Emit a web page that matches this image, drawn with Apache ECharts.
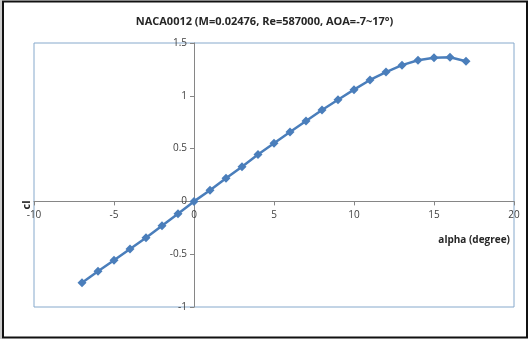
<!DOCTYPE html>
<html>
<head>
<meta charset="utf-8">
<script src="https://cdn.jsdelivr.net/npm/echarts@6/dist/echarts.min.js"></script>
<style>
  html, body { margin: 0; padding: 0; background: #ffffff; }
  #chart { width: 529px; height: 339px; }
</style>
</head>
<body>
<div id="chart"></div>
<script>
// Lift coefficient vs. angle of attack, NACA0012
const alphaDeg = [-7, -6, -5, -4, -3, -2, -1, 0, 1, 2, 3, 4, 5, 6, 7, 8, 9, 10, 11, 12, 13, 14, 15, 16, 17];
const clValues = [-0.770, -0.662, -0.558, -0.450, -0.344, -0.230, -0.116, 0.000, 0.105, 0.219, 0.329, 0.444, 0.550, 0.657, 0.761, 0.866, 0.963, 1.058, 1.150, 1.225, 1.290, 1.336, 1.360, 1.365, 1.327];
const xTicks = { min: -10, max: 20, step: 5 };
const yTicks = { min: -1, max: 1.5, step: 0.5 };
const titleText = 'NACA0012 (M=0.02476, Re=587000, AOA=-7~17°)';
const xName = 'alpha (degree)';
const yName = 'cl';

const points = alphaDeg.map((a, i) => [a, clValues[i]]);
const font = '"Open Sans", "Liberation Sans", sans-serif';

// plot box within the 529x339 canvas
const W = 529, H = 339;
const box = { left: 34, right: 15, top: 43, bottom: 32 };
const plotW = W - box.left - box.right;
const plotH = H - box.top - box.bottom;
// shift each axis inward so the two cross at the origin
const xAxisShift = -plotH * (0 - yTicks.min) / (yTicks.max - yTicks.min);
const yAxisShift = -plotW * (0 - xTicks.min) / (xTicks.max - xTicks.min);

const chart = echarts.init(document.getElementById('chart'), null, { renderer: 'canvas' });
chart.setOption({
  animation: false,
  backgroundColor: '#ffffff',
  title: {
    text: titleText,
    left: 'center',
    top: 11,
    textStyle: { fontFamily: font, fontSize: 11, fontWeight: 'bold', color: '#262626' }
  },
  grid: {
    left: box.left, right: box.right, top: box.top, bottom: box.bottom,
    show: true, borderColor: '#86a9cc', borderWidth: 1, backgroundColor: 'transparent'
  },
  xAxis: {
    type: 'value',
    position: 'bottom',
    offset: xAxisShift,
    min: xTicks.min, max: xTicks.max, interval: xTicks.step,
    axisLine: { onZero: false, lineStyle: { color: '#868686', width: 1 } },
    axisTick: { show: true, length: 4, lineStyle: { color: '#868686' } },
    splitLine: { show: false },
    axisLabel: { fontFamily: font, fontSize: 10, color: '#404040', margin: 9 }
  },
  yAxis: {
    type: 'value',
    position: 'left',
    offset: yAxisShift,
    min: yTicks.min, max: yTicks.max, interval: yTicks.step,
    axisLine: { onZero: false, lineStyle: { color: '#868686', width: 1 } },
    axisTick: { show: true, length: 4, lineStyle: { color: '#868686' } },
    splitLine: { show: false },
    axisLabel: { fontFamily: font, fontSize: 10, color: '#404040', margin: 7 }
  },
  graphic: [
    // page frame
    { type: 'rect', shape: { x: 0.5, y: 0, width: 1, height: 339 }, style: { fill: '#9a9a9a' }, silent: true },
    { type: 'rect', shape: { x: 3, y: 1.5, width: 524, height: 336 }, style: { fill: 'none', stroke: '#111111', lineWidth: 2 }, silent: true },
    // axis titles
    {
      type: 'text', x: 27, y: 205, rotation: Math.PI / 2,
      style: { text: yName, font: 'bold 11px ' + font, fill: '#262626', align: 'center', verticalAlign: 'middle' }
    },
    {
      type: 'text', x: 510, y: 240,
      style: { text: xName, font: 'bold 10px ' + font, fill: '#262626', align: 'right', verticalAlign: 'middle' }
    }
  ],
  series: [{
    type: 'line',
    data: points,
    symbol: 'diamond',
    symbolSize: 9,
    lineStyle: { color: '#4a7ebb', width: 2.5 },
    itemStyle: { color: '#4a7ebb' }
  }]
});
</script>
</body>
</html>
